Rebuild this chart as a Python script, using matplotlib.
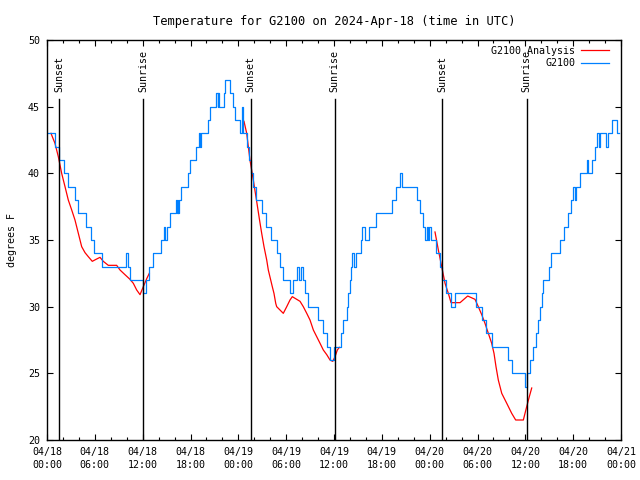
#!/usr/bin/env python3
import numpy as np
import pandas as pd
import matplotlib
matplotlib.use('Agg')
import matplotlib.pyplot as plt
import matplotlib.dates as mdates
import matplotlib.transforms as mtransforms

plt.rcParams['font.family'] = 'DejaVu Sans Mono'
plt.rcParams['font.size'] = 7.2

inicio = pd.Timestamp('2024-04-18 00:00')

# Estacion G2100: horas desde 04/18 00:00 UTC y temperatura (F), cambios de escalon
horas_obs = [0.00, 1.00, 1.51, 2.13, 2.63, 3.51, 3.89, 4.83, 5.52, 5.90, 6.84, 9.85, 10.10, 10.41,
             12.00, 12.48, 12.79, 13.30, 14.36, 14.68, 14.86, 15.05, 15.49, 16.12, 16.31, 16.40,
             16.47, 16.56, 16.87, 17.69, 17.94, 18.75, 19.07, 19.19, 19.32, 20.20, 20.45, 21.20,
             21.39, 21.51, 21.58, 22.14, 22.39, 22.96, 23.27, 23.52, 24.21, 24.40, 24.59, 25.09,
             25.34, 25.59, 25.84, 26.22, 26.91, 27.47, 28.04, 28.91, 29.23, 29.60, 30.54, 30.86,
             31.36, 31.55, 31.80, 32.05, 32.36, 32.74, 33.99, 34.62, 35.12, 35.50, 36.06, 36.88,
             37.13, 37.57, 37.76, 37.95, 38.07, 38.20, 38.45, 38.76, 39.33, 39.45, 39.89, 40.39,
             41.27, 43.28, 43.72, 44.34, 44.53, 46.35, 46.73, 47.17, 47.42, 47.61, 47.79, 47.92,
             48.11, 48.80, 49.24, 49.55, 50.05, 50.68, 51.12, 53.81, 54.57, 55.07, 55.82, 57.83,
             58.39, 59.90, 60.15, 60.59, 60.96, 61.40, 61.59, 61.84, 62.03, 62.16, 62.91, 63.16,
             64.35, 64.79, 65.29, 65.79, 65.98, 66.17, 66.36, 66.86, 67.68, 67.86, 68.30, 68.74,
             68.99, 69.18, 69.31, 70.18, 70.37, 70.81, 71.44, 71.75]
temp_obs = [43, 42, 41, 40, 39, 38, 37, 36, 35, 34, 33, 34, 33, 32,
            31, 32, 33, 34, 35, 36, 35, 36, 37, 38, 37, 38,
            37, 38, 39, 40, 41, 42, 43, 42, 43, 44, 45, 46,
            45, 46, 45, 46, 47, 46, 45, 44, 43, 45, 43, 42,
            41, 40, 39, 38, 37, 36, 35, 34, 33, 32, 31, 32,
            33, 32, 33, 32, 31, 30, 29, 28, 27, 26, 27, 28,
            29, 30, 31, 32, 33, 34, 33, 34, 35, 36, 35, 36,
            37, 38, 39, 40, 39, 38, 37, 36, 35, 36, 35, 36,
            35, 34, 33, 32, 31, 30, 31, 30, 29, 28, 27, 26,
            25, 24, 25, 26, 27, 28, 29, 30, 31, 32, 33, 34,
            35, 36, 37, 38, 39, 38, 39, 40, 41, 40, 41, 42,
            43, 42, 43, 42, 43, 44, 43, 43]

# Analisis G2100 (tres tramos)
horas_an1 = [0.50, 1.00, 1.42, 1.84, 2.26, 2.67, 3.10, 3.51, 3.93, 4.35, 4.77, 5.18, 5.68, 6.15,
             6.65, 7.06, 7.69, 8.74, 9.16, 9.78, 10.41, 10.83, 11.25, 11.67, 12.08, 12.51, 12.83]
temp_an1 = [43.0, 42.25, 41.25, 40.0, 39.0, 38.0, 37.25, 36.5, 35.5, 34.5, 34.05, 33.75, 33.4, 33.55,
            33.7, 33.4, 33.1, 33.1, 32.75, 32.4, 32.05, 31.75, 31.25, 30.9, 31.5, 32.1, 32.5]
horas_an2 = [24.71, 25.05, 25.46, 25.88, 26.30, 26.66, 26.93, 27.22, 27.56, 27.76, 28.06, 28.26,
             28.47, 28.69, 28.81, 29.64, 30.07, 30.48, 30.77, 31.74, 32.15, 32.58, 32.99, 33.41,
             33.83, 34.25, 34.66, 35.09, 35.50, 35.84, 36.13, 36.42, 36.67]
temp_an2 = [43.9, 43.0, 41.0, 39.5, 37.9, 36.5, 35.5, 34.5, 33.5, 32.75, 32.0, 31.5,
            31.0, 30.25, 30.0, 29.5, 30.0, 30.5, 30.75, 30.4, 30.0, 29.5, 29.0, 28.25,
            27.75, 27.25, 26.75, 26.4, 26.0, 25.9, 26.25, 26.75, 26.95]
horas_an3 = [48.67, 49.09, 49.51, 49.93, 50.34, 50.68, 51.81, 52.77, 53.69, 54.10, 54.53, 54.94,
             55.36, 55.78, 56.07, 56.32, 56.61, 57.04, 57.67, 58.29, 58.79, 59.75, 60.17, 60.50, 60.80]
temp_an3 = [35.6, 34.25, 33.0, 31.75, 31.0, 30.3, 30.3, 30.8, 30.55, 30.0, 29.4, 28.75,
            28.0, 27.25, 26.5, 25.5, 24.5, 23.5, 22.75, 22.0, 21.5, 21.5, 22.5, 23.25, 23.9]

# Puesta y salida del sol
horas_sol = [1.54, 12.08, 25.55, 36.09, 49.59, 60.17]
etiquetas_sol = ['Sunset', 'Sunrise', 'Sunset', 'Sunrise', 'Sunset', 'Sunrise']


def a_fecha(horas):
    return inicio + pd.to_timedelta(np.array(horas), unit='h')


fig = plt.figure(figsize=(6.4, 4.8), dpi=100)
ax = fig.add_axes([47 / 640, 40 / 480, 574 / 640, 400 / 480])

# Analisis
ax.plot(a_fecha(horas_an1), temp_an1, color='#ff0000', lw=0.9, label='G2100 Analysis')
ax.plot(a_fecha(horas_an2), temp_an2, color='#ff0000', lw=0.9)
ax.plot(a_fecha(horas_an3), temp_an3, color='#ff0000', lw=0.9)

# Observaciones
ax.plot(a_fecha(horas_obs), temp_obs, color='#0080ff', lw=0.9, drawstyle='steps-post', label='G2100')

# Lineas de sol
trans = mtransforms.blended_transform_factory(ax.transData, ax.transAxes)
for t, etiqueta in zip(a_fecha(horas_sol), etiquetas_sol):
    ax.axvline(t, ymin=0, ymax=0.8525, color='black', lw=1.0)
    ax.text(t, 0.87, etiqueta, transform=trans, rotation=90, ha='center', va='bottom')

ax.set_xlim(inicio, inicio + pd.Timedelta(hours=72))
ax.set_ylim(20, 50)
ax.set_yticks(range(20, 51, 5))

ax.xaxis.set_major_locator(mdates.HourLocator(byhour=range(0, 24, 6)))
ax.xaxis.set_minor_locator(mdates.HourLocator(byhour=range(0, 24, 2)))
ax.xaxis.set_major_formatter(mdates.DateFormatter('%m/%d\n%H:%M'))
ax.tick_params(which='both', direction='in', top=True, right=True, width=0.8)
ax.tick_params(which='major', length=4.5)
ax.tick_params(which='minor', length=2.5)
ax.tick_params(axis='x', pad=5)
ax.tick_params(axis='y', pad=5)
for lbl in ax.get_xticklabels():
    lbl.set_linespacing(1.4)
for s in ax.spines.values():
    s.set_linewidth(1.0)

ax.set_ylabel('degrees F', labelpad=8)
ax.set_title('Temperature for G2100 on 2024-Apr-18 (time in UTC)', pad=11)

ax.legend(loc='upper right', bbox_to_anchor=(0.988, 0.998), frameon=False, markerfirst=False,
          handlelength=2.8, handletextpad=0.6, labelspacing=0.25, borderaxespad=0.3, borderpad=0.2)

plt.savefig('out.png', dpi=100)
plt.close()
